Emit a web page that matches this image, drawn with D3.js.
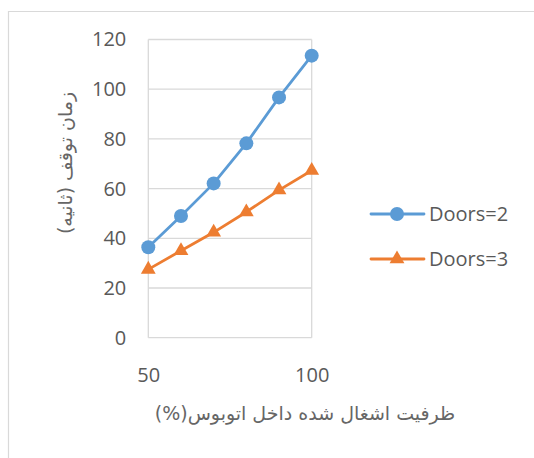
<!DOCTYPE html>
<html>
<head>
<meta charset="utf-8">
<script src="https://cdn.jsdelivr.net/npm/d3@7"></script>
<style>
  html, body { margin: 0; padding: 0; background: #fff; }
  svg { display: block; }
  .tick text { font-family: "Open Sans", sans-serif; fill: #595959; }
</style>
</head>
<body>
<svg id="chart" width="534" height="458"></svg>
<script>
// Occupancy (%) on the x axis, dwell time (seconds) per door configuration
const occupancy = [50, 60, 70, 80, 90, 100];
const doors2 = [36.4, 49.0, 62.1, 78.2, 96.7, 113.5];
const doors3 = [27.5, 35.0, 42.4, 50.6, 59.4, 67.3];
const seriesNames = ["Doors=2", "Doors=3"];
const yTicks = [0, 20, 40, 60, 80, 100, 120];
const xTicks = [50, 100];
const xTitle = "ظرفیت اشغال شده داخل اتوبوس(%)";
const yTitle = "زمان توقف (ثانیه)";

const colors = ["#5B9BD5", "#ED7D31"];
const series = [
  { name: seriesNames[0], values: doors2, color: colors[0], marker: "circle" },
  { name: seriesNames[1], values: doors3, color: colors[1], marker: "triangle" }
];

const svg = d3.select("#chart");
const plot = { left: 148.3, right: 311.7, top: 39.5, bottom: 337.7 };

const x = d3.scaleLinear().domain([50, 100]).range([plot.left, plot.right]);
const y = d3.scaleLinear().domain([0, 120]).range([plot.bottom, plot.top]);

// outer chart frame (top and left edges)
svg.append("path")
  .attr("d", "M8.5,458 V11.5 H534")
  .attr("fill", "none")
  .attr("stroke", "#D9D9D9")
  .attr("stroke-width", 1.2);

// horizontal gridlines
svg.append("g")
  .selectAll("line")
  .data(yTicks)
  .join("line")
  .attr("x1", plot.left).attr("x2", plot.right)
  .attr("y1", d => y(d)).attr("y2", d => y(d))
  .attr("stroke", "#D9D9D9").attr("stroke-width", 1.3);

// vertical gridlines
svg.append("g")
  .selectAll("line")
  .data(xTicks)
  .join("line")
  .attr("x1", d => x(d)).attr("x2", d => x(d))
  .attr("y1", plot.top).attr("y2", plot.bottom)
  .attr("stroke", "#D9D9D9").attr("stroke-width", 1.3);

// y axis labels
const yAxis = svg.append("g")
  .attr("transform", `translate(${plot.left},0)`)
  .call(d3.axisLeft(y).tickValues(yTicks).tickSize(0).tickPadding(22));
yAxis.select(".domain").remove();
yAxis.selectAll("text").attr("font-size", 20);

// x axis labels
const xAxis = svg.append("g")
  .attr("transform", `translate(0,${plot.bottom})`)
  .call(d3.axisBottom(x).tickValues(xTicks).tickSize(0).tickPadding(30));
xAxis.select(".domain").remove();
xAxis.selectAll("text").attr("font-size", 20);

// axis titles
svg.append("text")
  .attr("x", 305).attr("y", 420)
  .attr("text-anchor", "middle")
  .attr("font-family", "'DejaVu Sans', sans-serif")
  .attr("font-size", 19)
  .attr("fill", "#666666")
  .attr("direction", "rtl")
  .text(xTitle);

svg.append("text")
  .attr("transform", "translate(72,163) rotate(-90)")
  .attr("text-anchor", "middle")
  .attr("font-family", "'DejaVu Sans', sans-serif")
  .attr("font-size", 19)
  .attr("fill", "#666666")
  .attr("direction", "rtl")
  .text(yTitle);

const triangle = d3.symbol().type(d3.symbolTriangle).size(95);

function drawMarker(g, s, cx, cy) {
  if (s.marker === "circle") {
    g.append("circle").attr("cx", cx).attr("cy", cy).attr("r", 7).attr("fill", s.color);
  } else {
    g.append("path").attr("d", triangle())
      .attr("transform", `translate(${cx},${cy})`)
      .attr("fill", s.color);
  }
}

const line = d3.line()
  .x((d, i) => x(occupancy[i]))
  .y(d => y(d));

series.forEach(s => {
  const g = svg.append("g");
  g.append("path")
    .attr("d", line(s.values))
    .attr("fill", "none")
    .attr("stroke", s.color)
    .attr("stroke-width", 2.8)
    .attr("stroke-linejoin", "round");
  s.values.forEach((v, i) => drawMarker(g, s, x(occupancy[i]), y(v)));
});

// legend
const legendY = [214, 259];
series.forEach((s, i) => {
  const g = svg.append("g");
  g.append("line")
    .attr("x1", 371).attr("x2", 424)
    .attr("y1", legendY[i]).attr("y2", legendY[i])
    .attr("stroke", s.color).attr("stroke-width", 2.8)
    .attr("stroke-linecap", "round");
  drawMarker(g, s, 397, legendY[i]);
  g.append("text")
    .attr("x", 429).attr("y", legendY[i])
    .attr("dy", "0.35em")
    .attr("font-family", "'Open Sans', sans-serif")
    .attr("font-size", 20)
    .attr("fill", "#595959")
    .text(s.name);
});
</script>
</body>
</html>
